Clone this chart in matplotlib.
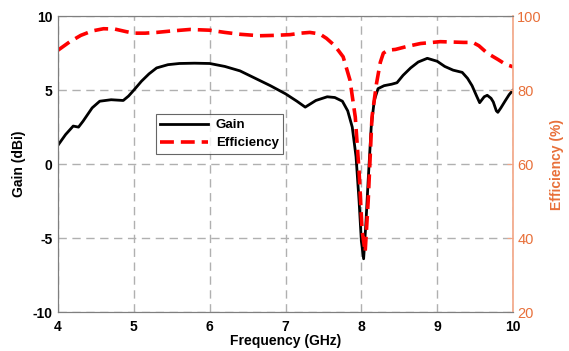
import matplotlib
matplotlib.use("Agg")
import matplotlib.pyplot as plt

plt.rcParams["font.family"] = ["Liberation Sans", "DejaVu Sans"]
plt.rcParams["lines.scale_dashes"] = False
plt.rcParams["axes.unicode_minus"] = False

# gain curve (dBi)
gain_freq = [4.0, 4.1, 4.2, 4.27, 4.33, 4.45, 4.55, 4.7, 4.86, 4.93, 5.0, 5.1, 5.2, 5.3,
             5.45, 5.6, 5.8, 6.0, 6.2, 6.4, 6.6, 6.8, 7.0, 7.15, 7.26, 7.4, 7.55, 7.65,
             7.75, 7.82, 7.88, 7.93, 7.97, 8.0, 8.03, 8.06, 8.09, 8.13, 8.17, 8.22, 8.3,
             8.4, 8.47, 8.55, 8.65, 8.75, 8.87, 9.0, 9.1, 9.21, 9.33, 9.4, 9.46, 9.52,
             9.56, 9.62, 9.66, 9.71, 9.74, 9.78, 9.8, 9.84, 9.9, 9.95, 10.0]
gain_dbi = [1.28, 2.0, 2.57, 2.5, 2.9, 3.8, 4.25, 4.35, 4.3, 4.6, 5.0, 5.6, 6.1, 6.5,
            6.72, 6.8, 6.82, 6.8, 6.6, 6.3, 5.8, 5.3, 4.75, 4.25, 3.85, 4.3, 4.55, 4.5,
            4.25, 3.6, 2.5, 0.5, -2.5, -5.2, -6.4, -4.0, -1.1, 2.5, 4.3, 5.1, 5.3,
            5.4, 5.5, 6.0, 6.5, 6.9, 7.15, 6.95, 6.6, 6.35, 6.2, 5.8, 5.3, 4.6,
            4.15, 4.55, 4.65, 4.45, 4.2, 3.6, 3.5, 3.8, 4.3, 4.7, 5.0]

# radiation efficiency (%)
eff_freq = [4.0, 4.15, 4.3, 4.45, 4.6, 4.75, 4.9, 5.0, 5.15, 5.3, 5.5, 5.74, 6.0, 6.2,
            6.4, 6.66, 6.85, 7.06, 7.2, 7.32, 7.45, 7.54, 7.65, 7.76, 7.85, 7.92, 7.97,
            8.01, 8.05, 8.09, 8.14, 8.2, 8.25, 8.29, 8.35, 8.45, 8.6, 8.78, 9.04, 9.2,
            9.35, 9.47, 9.55, 9.66, 9.8, 9.9, 10.0]
eff_pct = [90.8, 93.0, 94.8, 96.0, 96.6, 96.5, 95.8, 95.4, 95.4, 95.6, 96.0, 96.4, 96.2, 95.6,
           95.1, 94.7, 94.8, 95.0, 95.4, 95.6, 95.2, 94.0, 92.0, 89.0, 82.7, 72.7, 58.0,
           42.0, 36.2, 50.0, 72.7, 81.8, 87.5, 90.0, 90.8, 91.0, 91.8, 92.6, 93.1, 93.0,
           92.9, 92.9, 92.0, 90.0, 88.3, 87.0, 86.3]

x_ticks = [4, 5, 6, 7, 8, 9, 10]
gain_ticks = [-10, -5, 0, 5, 10]
eff_ticks = [20, 40, 60, 80, 100]

ORANGE = "#E8703A"
SPINE_ORANGE = "#F2A585"
GREY = "#7f7f7f"

fig = plt.figure(figsize=(5.69, 3.51), dpi=100)
ax = fig.add_axes([0.102, 0.111, 0.7996, 0.843])
ax2 = ax.twinx()

g_line, = ax.plot(gain_freq, gain_dbi, color="black", linewidth=2.0, label="Gain")
e_line, = ax2.plot(eff_freq, eff_pct, color="#ff0000", linewidth=2.6,
                   dashes=(10, 5), label="Efficiency")

ax.set_xlim(4, 10)
ax.set_ylim(-10, 10)
ax2.set_ylim(20, 100)
ax.set_xticks(x_ticks)
ax.set_yticks(gain_ticks)
ax2.set_yticks(eff_ticks)

ax.grid(True, color="#b0b0b0", linestyle=(0, (6, 4)), linewidth=1.0)
ax.set_axisbelow(True)

ax.tick_params(axis="both", direction="in", length=0, labelsize=10)
ax.tick_params(axis="x", pad=6)
ax.tick_params(axis="y", pad=4)
for lbl in ax.get_xticklabels() + ax.get_yticklabels():
    lbl.set_fontweight("bold")
ax2.tick_params(axis="y", direction="in", length=4, colors=SPINE_ORANGE,
                labelcolor=ORANGE, labelsize=10.5, pad=3)

ax.set_xlabel("Frequency (GHz)", fontsize=10, fontweight="bold", labelpad=0)
ax.set_ylabel("Gain (dBi)", fontsize=10, fontweight="bold", labelpad=5)
ax2.set_ylabel("Efficiency (%)", fontsize=10, fontweight="bold", color=ORANGE, labelpad=6)

for side in ["left", "bottom", "top"]:
    ax.spines[side].set_color(GREY)
    ax2.spines[side].set_color(GREY)
ax.spines["right"].set_visible(False)
ax2.spines["right"].set_color(SPINE_ORANGE)
ax2.spines["right"].set_linewidth(1.2)
ax2.patch.set_visible(False)

leg = ax2.legend(handles=[g_line, e_line], loc="upper left",
                 bbox_to_anchor=(0.2, 0.69), frameon=True, fancybox=False,
                 edgecolor="#404040", prop={"weight": "bold", "size": 9.5},
                 handlelength=3.6, borderpad=0.35, labelspacing=0.45,
                 handletextpad=0.6)
leg.get_frame().set_linewidth(0.8)

fig.savefig("out.png", dpi=100)
